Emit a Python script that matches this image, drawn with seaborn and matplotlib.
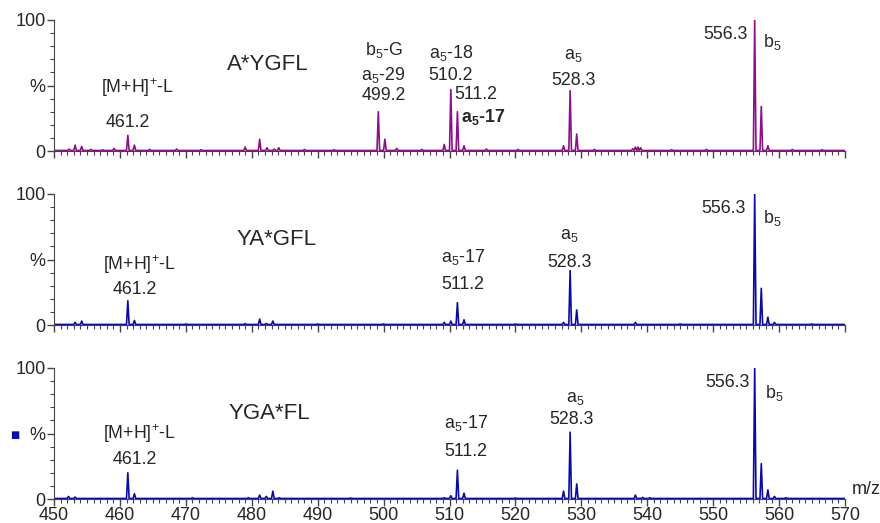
import numpy as np
import pandas as pd
import seaborn as sns
import matplotlib.pyplot as plt
from matplotlib.ticker import MultipleLocator, FixedLocator

sns.set_style("ticks")
plt.rcParams['font.family'] = ['Liberation Sans', 'DejaVu Sans']
plt.rcParams['mathtext.fontset'] = 'custom'
plt.rcParams['mathtext.rm'] = 'Liberation Sans'
plt.rcParams['mathtext.bf'] = 'Liberation Sans:bold'
plt.rcParams['mathtext.default'] = 'regular'

# peak lists: m/z and relative intensity (%)
mz_top = [452.3, 453.2, 454.2, 455.6, 457.4, 459.1, 461.2, 462.2, 464.5, 468.6, 472.3,
          479.0, 481.2, 482.3, 483.4, 484.1, 488.0, 492.5, 499.2, 500.2, 502.0, 505.8,
          509.2, 510.2, 511.2, 512.2, 515.6, 520.4, 527.3, 528.3, 529.3, 532.0, 537.8,
          538.2, 538.6, 539.0, 543.7, 549.0, 556.3, 557.3, 558.3, 562.0, 566.5]
int_top = [1.5, 4.5, 3.5, 1.2, 1.0, 2.0, 12.0, 4.5, 1.2, 1.5, 1.0,
           3.0, 9.0, 2.5, 1.5, 2.5, 1.2, 1.0, 30.0, 9.0, 2.0, 1.2,
           5.0, 47.0, 30.0, 4.0, 1.5, 1.2, 4.0, 46.0, 13.0, 1.2, 1.8,
           3.0, 3.0, 2.5, 1.0, 1.2, 100.0, 34.0, 4.0, 1.2, 1.0]

mz_mid = [453.2, 454.2, 461.2, 462.2, 470.0, 479.0, 481.2, 482.2, 483.2, 490.0, 500.0,
          509.2, 510.2, 511.2, 512.2, 520.0, 527.3, 528.3, 529.3, 538.2, 545.0,
          556.3, 557.3, 558.3, 559.3, 565.0]
int_mid = [2.0, 3.0, 18.5, 3.5, 0.8, 1.0, 4.5, 1.2, 3.0, 0.8, 0.8,
           2.0, 3.0, 17.0, 4.0, 0.8, 2.0, 41.5, 11.5, 2.0, 0.8,
           100.0, 28.0, 6.0, 2.0, 0.8]

mz_bot = [452.2, 453.2, 461.2, 462.2, 471.0, 479.5, 481.2, 482.2, 483.2, 484.2, 495.0,
          509.2, 510.2, 511.2, 512.2, 520.0, 527.3, 528.3, 529.3, 538.2, 539.3, 540.4,
          556.3, 557.3, 558.3, 559.3, 561.0]
int_bot = [2.0, 1.5, 20.0, 4.0, 1.0, 1.0, 3.0, 2.0, 6.0, 1.0, 0.8,
           1.0, 2.5, 22.0, 4.5, 0.8, 6.0, 51.0, 11.5, 3.0, 1.2, 1.0,
           100.0, 27.0, 7.0, 2.0, 1.0]

panel_names = ["A*YGFL", "YA*GFL", "YGA*FL"]
colors = ["#8c0f8c", "#0a0aa8", "#0a0aa8"]


def profile(mz, inten):
    xs, ys = [449.5], [0.4]
    for m, h in sorted(zip(mz, inten)):
        xs += [m - 0.2, m, m + 0.2]
        ys += [0.4, h, 0.4]
    xs.append(570.5)
    ys.append(0.4)
    return pd.DataFrame({"m/z": xs, "%": ys})


fig = plt.figure(figsize=(8.8, 5.23), dpi=100)
x0, w = 54 / 880, (845 - 54) / 880
bottoms = [(523 - 151) / 523, (523 - 325) / 523, (523 - 499) / 523]
h = 131 / 523
axes = [fig.add_axes([x0, b, w, h]) for b in bottoms]

data = [(mz_top, int_top), (mz_mid, int_mid), (mz_bot, int_bot)]
for ax, (mz, inten), c in zip(axes, data, colors):
    sns.lineplot(data=profile(mz, inten), x="m/z", y="%", ax=ax, color=c,
                 lw=1.2, estimator=None, sort=False)
    ax.set_xlim(450, 570)
    ax.set_ylim(0, 100)
    ax.set_xlabel("")
    ax.set_ylabel("")
    sns.despine(ax=ax)
    ax.xaxis.set_major_locator(MultipleLocator(10))
    ax.xaxis.set_minor_locator(MultipleLocator(1))
    ax.yaxis.set_major_locator(FixedLocator([0, 50, 100]))
    ax.yaxis.set_minor_locator(MultipleLocator(10))
    ax.set_yticklabels(["0", "%", "100"])
    ax.tick_params(axis='both', which='major', length=5, width=1, color='#444444',
                   labelsize=13, pad=1)
    ax.tick_params(axis='both', which='minor', length=3, width=0.8, color='#444444')
    for s in ax.spines.values():
        s.set_color('#444444')
    ax.patch.set_alpha(0)

for ax in axes[:2]:
    ax.set_xticklabels([])
axes[2].text(571, 1, "m/z", fontsize=13, ha='left', va='bottom')

fs = 12.8
tk = dict(ha='center', va='center', fontsize=fs)
a0, a1, a2 = axes

a0.text(482.5, 66, panel_names[0], ha='center', va='center', fontsize=16)
a0.text(462.6, 48, "[M+H]$^{+}$-L", **tk)
a0.text(461.2, 22, "461.2", **tk)
a0.text(500.0, 77, "b$_5$-G", **tk)
a0.text(500.0, 58, "a$_5$-29", **tk)
a0.text(500.0, 42, "499.2", **tk)
a0.text(510.2, 75, "a$_5$-18", **tk)
a0.text(510.2, 58, "510.2", **tk)
a0.text(510.8, 43, "511.2", ha='left', va='center', fontsize=fs)
a0.text(511.8, 26, "a$_5$-17", ha='left', va='center', fontsize=fs, fontweight='bold')
a0.text(528.8, 73, "a$_5$", **tk)
a0.text(528.8, 54, "528.3", **tk)
a0.text(555.2, 89, "556.3", ha='right', va='center', fontsize=fs)
a0.text(557.6, 83, "b$_5$", ha='left', va='center', fontsize=fs)

a1.text(483.7, 65, panel_names[1], ha='center', va='center', fontsize=16)
a1.text(462.9, 46, "[M+H]$^{+}$-L", **tk)
a1.text(462.3, 27, "461.2", **tk)
a1.text(512.0, 52, "a$_5$-17", **tk)
a1.text(512.0, 31, "511.2", **tk)
a1.text(528.2, 68, "a$_5$", **tk)
a1.text(528.2, 48, "528.3", **tk)
a1.text(555.0, 89, "556.3", ha='right', va='center', fontsize=fs)
a1.text(557.6, 82, "b$_5$", ha='left', va='center', fontsize=fs)

a2.text(482.7, 65, panel_names[2], ha='center', va='center', fontsize=16)
a2.text(462.9, 50, "[M+H]$^{+}$-L", **tk)
a2.text(462.3, 30, "461.2", **tk)
a2.text(512.5, 58, "a$_5$-17", **tk)
a2.text(512.5, 36, "511.2", **tk)
a2.text(529.0, 77, "a$_5$", **tk)
a2.text(528.5, 61, "528.3", **tk)
a2.text(555.6, 89, "556.3", ha='right', va='center', fontsize=fs)
a2.text(557.8, 81, "b$_5$", ha='left', va='center', fontsize=fs)

fig.text(15 / 880, 1 - 435 / 523, "■", color="#0a0aa8", fontsize=7,
         ha='center', va='center', family=['DejaVu Sans'])

fig.savefig("out.png", dpi=100)
